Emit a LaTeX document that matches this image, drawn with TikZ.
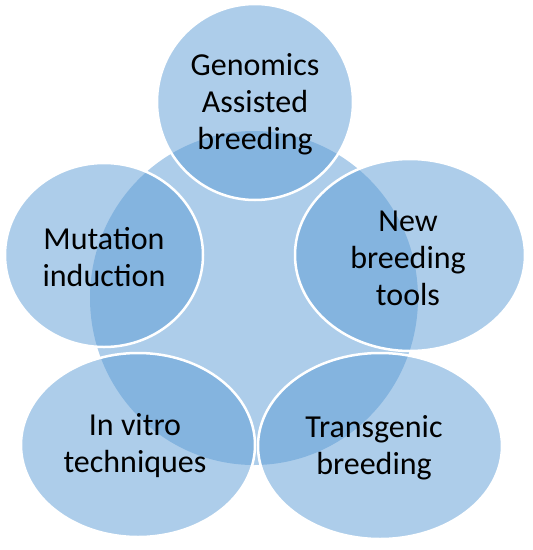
\documentclass[tikz,border=0pt]{standalone}
\usepackage{fontspec}
\setmainfont{Carlito}
\definecolor{vennblue}{HTML}{5B9BD5}

\begin{document}
\begin{tikzpicture}[x=1pt,y=-1pt,
		core/.style={fill=vennblue,fill opacity=0.5},
		petal/.style={core,draw=white,line width=2.5pt},
		lbl/.style={align=center,text=black,font=\fontsize{32}{37}\selectfont}]
		\useasboundingbox (0,0) rectangle (533,550);
		\fill[core] (254,298) ellipse [x radius=164,y radius=167]; %centre
		\filldraw[petal] (255,102) ellipse [x radius=98,y radius=98]; %top
		\filldraw[petal] (104,255) ellipse [x radius=99,y radius=92]; %left
		\filldraw[petal] (410,255) ellipse [x radius=115,y radius=96]; %right
		\filldraw[petal] (138,445) ellipse [x radius=117,y radius=92]; %bottom left
		\filldraw[petal] (380,446) ellipse [x radius=122,y radius=93]; %bottom right
		\node[lbl] (gab) at (255,104) {Genomics\\Assisted\\breeding};
		\node[lbl] (mut) at (104,257) {Mutation\\induction};
		\node[lbl] (nbt) at (408,258) {New\\breeding\\tools};
		\node[lbl] (ivt) at (135,446) {In vitro\\techniques};
		\node[lbl] (tgb) at (374,448) {Transgenic\\breeding};
	\end{tikzpicture}
\end{document}
